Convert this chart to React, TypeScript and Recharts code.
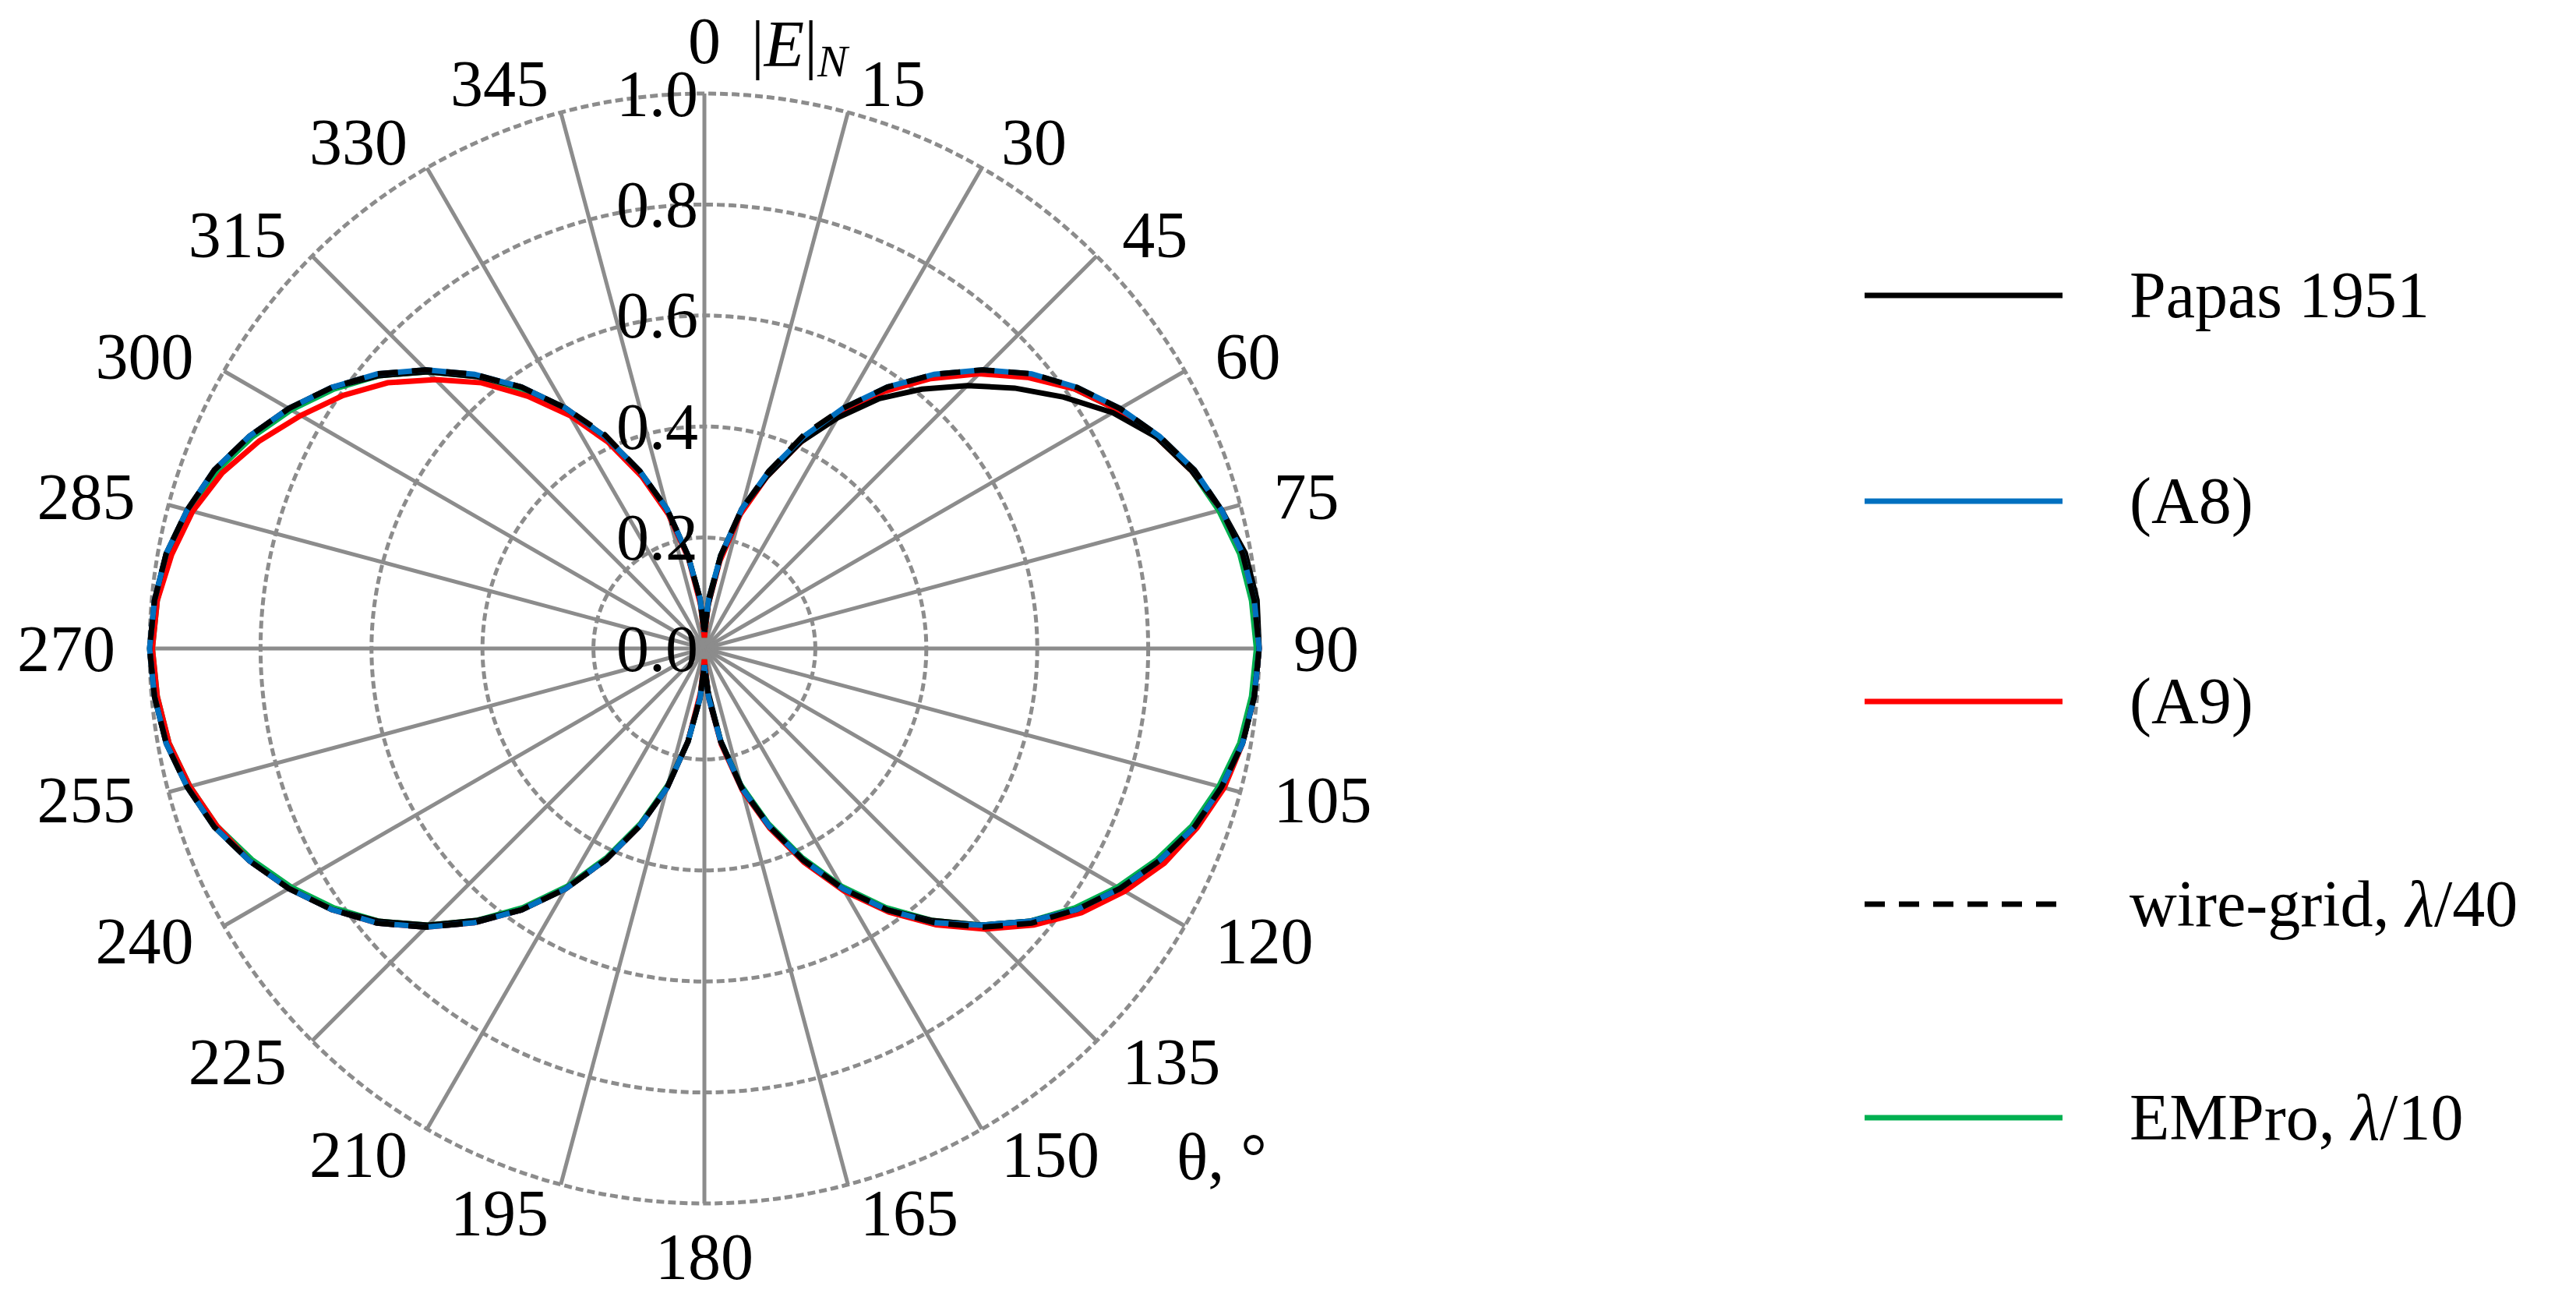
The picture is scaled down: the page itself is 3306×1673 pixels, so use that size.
import React from 'react';
import { RadarChart, Radar, PolarGrid, PolarAngleAxis, PolarRadiusAxis, Legend } from 'recharts';

// angle in degrees, step 5
const THETA = [
    0, 5, 10, 15, 20, 25, 30, 35, 40, 45, 50, 55, 60, 65, 70, 75, 80, 85,
    90, 95, 100, 105, 110, 115, 120, 125, 130, 135, 140, 145, 150, 155, 160, 165, 170, 175,
    180, 185, 190, 195, 200, 205, 210, 215, 220, 225, 230, 235, 240, 245, 250, 255, 260, 265,
    270, 275, 280, 285, 290, 295, 300, 305, 310, 315, 320, 325, 330, 335, 340, 345, 350, 355,
];

const PAPAS = [
    0.03, 0.08, 0.17, 0.26, 0.33, 0.41, 0.48, 0.55, 0.61, 0.67, 0.73, 0.79, 0.85, 0.90, 0.935, 0.965, 0.99, 1.0,
    1.0, 0.995, 0.985, 0.965, 0.94, 0.905, 0.865, 0.82, 0.765, 0.705, 0.64, 0.575, 0.50, 0.42, 0.34, 0.26, 0.17, 0.08,
    0.03, 0.09, 0.17, 0.26, 0.34, 0.42, 0.50, 0.575, 0.64, 0.705, 0.765, 0.82, 0.865, 0.905, 0.94, 0.965, 0.985, 0.995,
    1.0, 0.995, 0.985, 0.965, 0.94, 0.905, 0.865, 0.82, 0.765, 0.705, 0.64, 0.575, 0.50, 0.42, 0.34, 0.26, 0.17, 0.09,
];

const A8 = [
    0.03, 0.09, 0.17, 0.26, 0.34, 0.42, 0.50, 0.575, 0.645, 0.71, 0.77, 0.82, 0.865, 0.905, 0.94, 0.965, 0.985, 0.995,
    1.0, 0.995, 0.985, 0.965, 0.94, 0.905, 0.865, 0.82, 0.765, 0.705, 0.645, 0.575, 0.50, 0.42, 0.34, 0.26, 0.17, 0.09,
    0.03, 0.09, 0.17, 0.26, 0.34, 0.42, 0.50, 0.575, 0.645, 0.71, 0.77, 0.82, 0.865, 0.905, 0.94, 0.965, 0.985, 0.995,
    1.0, 0.995, 0.985, 0.965, 0.94, 0.905, 0.865, 0.82, 0.77, 0.71, 0.645, 0.575, 0.50, 0.42, 0.34, 0.26, 0.17, 0.09,
];

const A9 = [
    0.02, 0.08, 0.16, 0.25, 0.33, 0.41, 0.49, 0.565, 0.635, 0.70, 0.76, 0.815, 0.86, 0.90, 0.935, 0.965, 0.985, 0.995,
    1.0, 0.995, 0.985, 0.97, 0.945, 0.915, 0.875, 0.83, 0.775, 0.715, 0.65, 0.58, 0.505, 0.425, 0.345, 0.265, 0.175, 0.09,
    0.02, 0.08, 0.17, 0.26, 0.34, 0.42, 0.50, 0.575, 0.645, 0.71, 0.77, 0.82, 0.865, 0.905, 0.935, 0.96, 0.98, 0.99,
    0.995, 0.99, 0.975, 0.955, 0.925, 0.885, 0.84, 0.795, 0.745, 0.685, 0.625, 0.555, 0.485, 0.41, 0.33, 0.25, 0.165, 0.08,
];

const WIRE = [
    0.03, 0.09, 0.17, 0.26, 0.34, 0.425, 0.50, 0.575, 0.645, 0.71, 0.77, 0.82, 0.865, 0.905, 0.94, 0.965, 0.985, 0.995,
    1.0, 0.995, 0.985, 0.965, 0.94, 0.905, 0.865, 0.82, 0.77, 0.71, 0.645, 0.575, 0.50, 0.42, 0.34, 0.26, 0.17, 0.09,
    0.03, 0.09, 0.17, 0.26, 0.34, 0.42, 0.50, 0.575, 0.645, 0.71, 0.77, 0.82, 0.865, 0.905, 0.94, 0.965, 0.985, 0.995,
    1.0, 0.995, 0.985, 0.965, 0.94, 0.905, 0.865, 0.82, 0.77, 0.71, 0.645, 0.575, 0.50, 0.425, 0.34, 0.26, 0.17, 0.09,
];

const EMPRO = [
    0.02, 0.085, 0.17, 0.255, 0.335, 0.42, 0.495, 0.57, 0.64, 0.705, 0.765, 0.815, 0.86, 0.90, 0.935, 0.96, 0.98, 0.99,
    0.995, 0.99, 0.98, 0.96, 0.935, 0.90, 0.86, 0.815, 0.765, 0.705, 0.64, 0.57, 0.495, 0.415, 0.335, 0.255, 0.17, 0.085,
    0.02, 0.085, 0.17, 0.255, 0.335, 0.415, 0.495, 0.57, 0.64, 0.705, 0.765, 0.815, 0.86, 0.90, 0.935, 0.96, 0.98, 0.99,
    0.995, 0.99, 0.98, 0.96, 0.935, 0.90, 0.86, 0.815, 0.765, 0.705, 0.64, 0.57, 0.495, 0.415, 0.335, 0.255, 0.17, 0.085,
];

const ANGLE_TICKS = [0, 15, 30, 45, 60, 75, 90, 105, 120, 135, 150, 165, 180, 195, 210, 225, 240, 255, 270, 285, 300, 315, 330, 345];
const RADIUS_TICKS = [0, 0.2, 0.4, 0.6, 0.8, 1.0];

const FONT = '"Liberation Serif", "Times New Roman", serif';
const GRID = '#8c8c8c';
const FS = 84;

const data = THETA.map((theta, i) => ({
    theta,
    papas: PAPAS[i],
    a8: A8[i],
    a9: A9[i],
    wire: WIRE[i],
    empro: EMPRO[i],
}));

const LEGEND_ROWS = [
    { name: 'Papas 1951', color: '#000000', dash: undefined, y: 79 },
    { name: '(A8)', color: '#0070c0', dash: undefined, y: 343 },
    { name: '(A9)', color: '#ff0000', dash: undefined, y: 600 },
    { name: 'wire-grid, |λ|/40', color: '#000000', dash: '26 18', y: 860 },
    { name: 'EMPro, |λ|/10', color: '#00b050', dash: undefined, y: 1134 },
];

// text with |...| parts set in italic
const richText = (s: string) =>
    s.split('|').map((part, i) => (
        <tspan key={i} fontStyle={i % 2 === 1 ? 'italic' : 'normal'}>{part}</tspan>
    ));

const AngleTick = (props: any) => {
    const { x, y, payload, textAnchor } = props;
    const v = payload.value;
    if (v === 360) return <g />;
    const rad = (payload.coordinate * Math.PI) / 180;
    let tx = x;
    let ty = y;
    if (textAnchor === 'middle') {
        ty = y - Math.sin(rad) * 30;
    } else {
        tx = textAnchor === 'start' ? x + 6 : x - 6;
    }
    return (
        <g>
            <text x={tx} y={ty} textAnchor={textAnchor} dominantBaseline="central" fontFamily={FONT} fontSize={FS} fill="#000">
                {v}
            </text>
            {v === 0 && (
                <text x={tx + 60} y={ty + 33} fontFamily={FONT} fontSize={FS} fill="#000">
                    <tspan>|</tspan>
                    <tspan fontStyle="italic">E</tspan>
                    <tspan>|</tspan>
                    <tspan fontStyle="italic" fontSize={58} dy={13}>N</tspan>
                </text>
            )}
        </g>
    );
};

const RadiusTick = (props: any) => {
    const { x, y, payload } = props;
    return (
        <text x={x - 8} y={y} textAnchor="end" dominantBaseline="central" fontFamily={FONT} fontSize={FS} fill="#000">
            {Number(payload.value).toFixed(1)}
        </text>
    );
};

const renderLegend = () => (
    <svg width={920} height={1250}>
        {LEGEND_ROWS.map((row) => (
            <g key={row.name}>
                <line x1={13} x2={267} y1={row.y} y2={row.y} stroke={row.color} strokeWidth={7} strokeDasharray={row.dash} />
                <text x={353} y={row.y + 28} fontFamily={FONT} fontSize={FS} fill="#000">
                    {richText(row.name)}
                </text>
            </g>
        ))}
    </svg>
);

const App: React.FC = () => {
    return (
        <div style={{ width: 3306, height: 1673, background: '#fff' }}>
            <style>{'body{margin:0}'}</style>
            <RadarChart
                width={3306}
                height={1673}
                data={data}
                cx={904}
                cy={832}
                outerRadius={712}
                margin={{ top: 0, right: 0, bottom: 0, left: 0 }}
            >
                <PolarGrid gridType="circle" radialLines={false} stroke={GRID} strokeWidth={5} strokeDasharray="10 5" />
                <PolarGrid gridType="circle" polarRadius={[]} stroke={GRID} strokeWidth={5} />
                <PolarAngleAxis
                    dataKey="theta"
                    type="number"
                    domain={[0, 360]}
                    ticks={ANGLE_TICKS}
                    tickSize={38}
                    tickLine={false}
                    axisLine={false}
                    tick={<AngleTick />}
                />
                <PolarRadiusAxis
                    angle={90}
                    domain={[0, 1]}
                    ticks={RADIUS_TICKS}
                    tickCount={6}
                    axisLine={false}
                    tickLine={false}
                    tick={<RadiusTick />}
                />
                <Radar dataKey="empro" name="EMPro, λ/10" stroke="#00b050" strokeWidth={7} fill="none" dot={false} isAnimationActive={false} />
                <Radar dataKey="a9" name="(A9)" stroke="#ff0000" strokeWidth={7} fill="none" dot={false} isAnimationActive={false} />
                <Radar dataKey="papas" name="Papas 1951" stroke="#000000" strokeWidth={7} fill="none" dot={false} isAnimationActive={false} />
                <Radar dataKey="a8" name="(A8)" stroke="#0070c0" strokeWidth={7} fill="none" dot={false} isAnimationActive={false} />
                <Radar dataKey="wire" name="wire-grid, λ/40" stroke="#000000" strokeWidth={7} strokeDasharray="26 18" fill="none" dot={false} isAnimationActive={false} />
                <Legend
                    layout="vertical"
                    align="right"
                    verticalAlign="top"
                    content={renderLegend}
                    wrapperStyle={{ left: 2380, top: 300, width: 920, height: 1250 }}
                />
                <text x={1510} y={1513} fontFamily={FONT} fontSize={FS} fill="#000">θ, °</text>
            </RadarChart>
        </div>
    );
};

export default App;
